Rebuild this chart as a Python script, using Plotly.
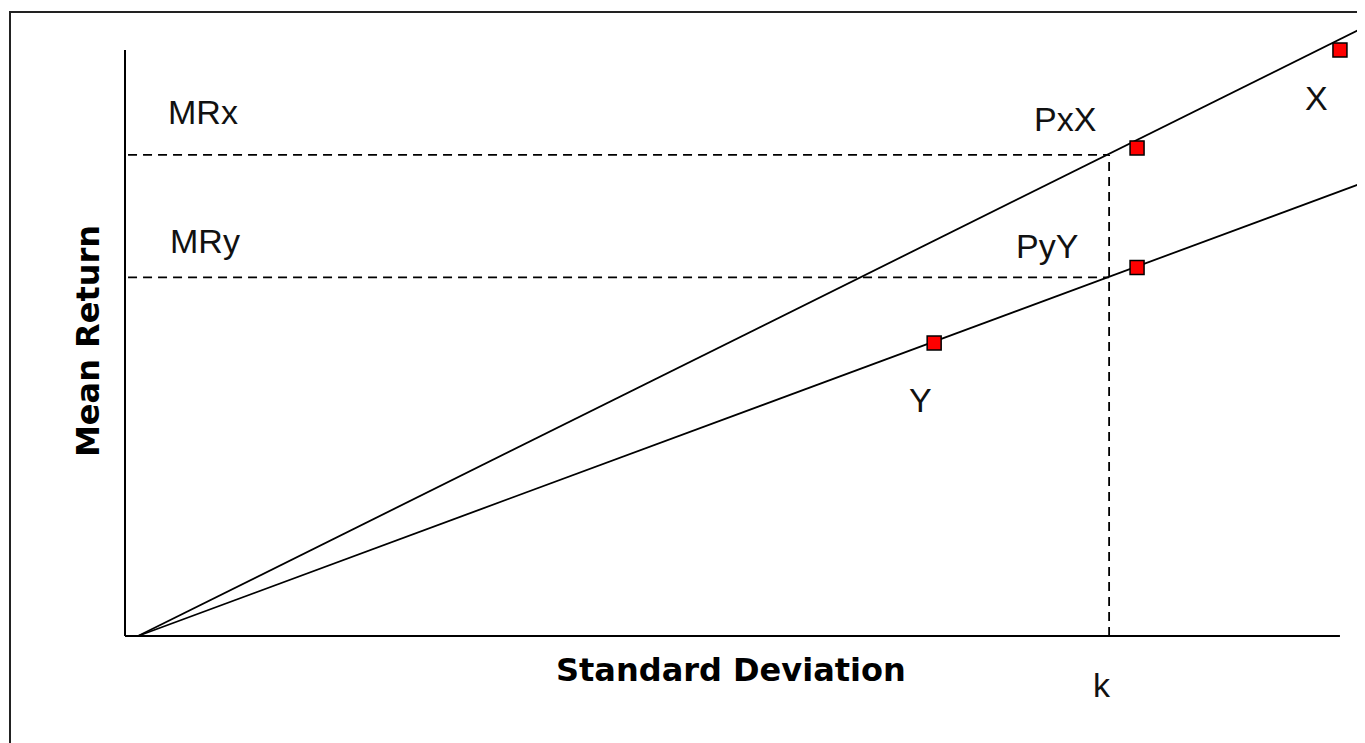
import plotly.graph_objects as go

# ---- data (chart units: axes run 0..100) ----
point_names = ["X", "PxX", "PyY", "Y"]
point_sd = [100.0, 83.3, 83.3, 66.6]
point_mr = [100.0, 83.3, 62.9, 50.0]

line_x_sd = [1.07, 104.0]
line_x_mr = [0.0, 105.96]
line_y_sd = [1.07, 104.0]
line_y_mr = [0.0, 78.95]

k_value = 81.0
mrx_value = 82.1
mry_value = 61.2

axis_len = 100.0

W, H = 1365, 743
OFF = 8  # page body margin
x_range = [-9.63, 102.72]
y_range = [-19.62, 107.17]

fig = go.Figure()

black = "#000000"

# axes lines
fig.add_trace(go.Scatter(x=[0, axis_len], y=[0, 0], mode="lines",
                         line=dict(color=black, width=2), hoverinfo="skip"))
fig.add_trace(go.Scatter(x=[0, 0], y=[0, axis_len], mode="lines",
                         line=dict(color=black, width=2), hoverinfo="skip"))

# dashed guides
dash = "9px,6px"
fig.add_trace(go.Scatter(x=[0.25, k_value], y=[mrx_value, mrx_value], mode="lines",
                         line=dict(color=black, width=1.8, dash=dash), hoverinfo="skip"))
fig.add_trace(go.Scatter(x=[0.25, k_value], y=[mry_value, mry_value], mode="lines",
                         line=dict(color=black, width=1.8, dash=dash), hoverinfo="skip"))
fig.add_trace(go.Scatter(x=[k_value, k_value], y=[0, mrx_value], mode="lines",
                         line=dict(color=black, width=1.8, dash=dash), hoverinfo="skip"))

# solid rays
fig.add_trace(go.Scatter(x=line_x_sd, y=line_x_mr, mode="lines",
                         line=dict(color=black, width=1.8), hoverinfo="skip"))
fig.add_trace(go.Scatter(x=line_y_sd, y=line_y_mr, mode="lines",
                         line=dict(color=black, width=1.8), hoverinfo="skip"))

# markers
fig.add_trace(go.Scatter(x=point_sd, y=point_mr, mode="markers", text=point_names,
                         marker=dict(symbol="square", size=14, color="#ff0000",
                                     line=dict(color=black, width=1.5)),
                         cliponaxis=False))

lab_font = dict(family="Liberation Sans, Arial, sans-serif", size=34, color="#111111")
bold_font = dict(family="DejaVu Sans, sans-serif", size=32, color="#000000")

pt = dict(zip(point_names, zip(point_sd, point_mr)))
ann = []
def add(text, x, y, xs, ys, font=lab_font):
    ann.append(dict(text=text, x=x, y=y, xref="x", yref="y", xshift=xs, yshift=ys,
                    showarrow=False, font=font, xanchor="center", yanchor="middle"))

add("MRx", 0, mrx_value, 78, 43)
add("MRy", 0, mry_value, 80, 36)
add("PxX", pt["PxX"][0], pt["PxX"][1], -72, 29)
add("PyY", pt["PyY"][0], pt["PyY"][1], -90, 21)
add("X", pt["X"][0], pt["X"][1], -23, -48)
add("Y", pt["Y"][0], pt["Y"][1], -14, -57)
add("k", k_value, 0, -7, -49)

ann.append(dict(text="<b>Standard Deviation</b>", x=(731 - OFF) / W, y=1 - (670 - OFF) / H,
                xref="paper", yref="paper",
                showarrow=False, font=bold_font, xanchor="center", yanchor="middle"))
ann.append(dict(text="<b>Mean Return</b>", x=(88 - OFF) / W, y=1 - (341 - OFF) / H,
                xref="paper", yref="paper",
                showarrow=False, font=bold_font, xanchor="center", yanchor="middle", textangle=-90))

fig.update_layout(
    width=W, height=H,
    margin=dict(l=0, r=0, t=0, b=0),
    paper_bgcolor="white", plot_bgcolor="white",
    showlegend=False,
    xaxis=dict(range=x_range, visible=False, fixedrange=True),
    yaxis=dict(range=y_range, visible=False, fixedrange=True),
    annotations=ann,
    shapes=[dict(type="rect", xref="paper", yref="paper",
                 x0=(10 - OFF) / W, x1=1.02, y0=-0.02, y1=1 - (12 - OFF) / H,
                 line=dict(color="#222222", width=2))],
)

fig.write_html("out.html")
